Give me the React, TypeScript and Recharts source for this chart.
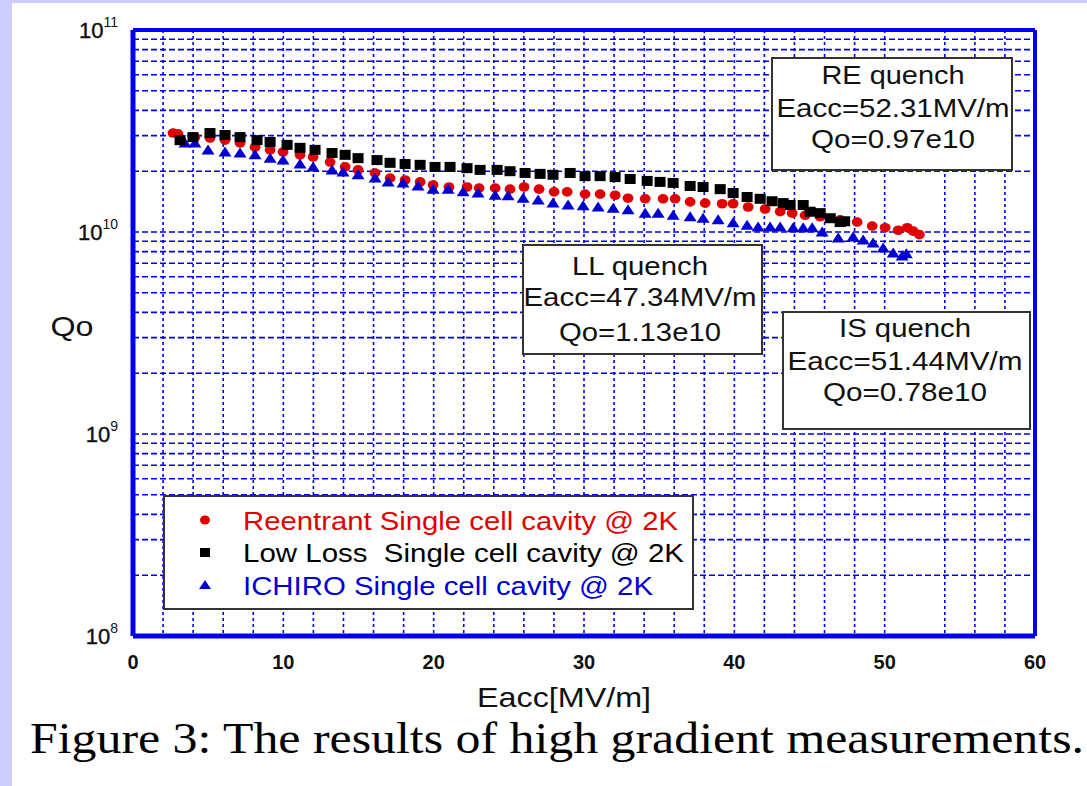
import React from 'react';
import { ScatterChart, Scatter, XAxis, YAxis, CartesianGrid, Legend } from 'recharts';

// ---------- data (Eacc in MV/m, Qo in units of 1e10) ----------
const reentrantE = [2.66, 2.99, 4.12, 5.12, 6.12, 7.12, 8.12, 9.12, 9.98, 11.11, 11.98, 13.11, 14.11, 14.97, 16.1, 17.1, 18.1, 19.1, 19.96, 21.02, 22.22, 23.02, 24.09, 25.08, 26.01, 27.01, 28.01, 28.88, 30.07, 31.07, 32.07, 32.93, 34.07, 35.26, 36.06, 37.06, 38.06, 39.19, 39.92, 40.92, 42.05, 43.05, 43.85, 44.71, 45.71, 47.04, 48.17, 49.17, 50.03, 50.9, 51.5, 51.9, 52.31];
const reentrantQ = [3.09, 3.06, 2.95, 2.92, 2.85, 2.76, 2.63, 2.55, 2.49, 2.41, 2.35, 2.22, 2.1, 2.03, 1.96, 1.85, 1.81, 1.77, 1.71, 1.67, 1.67, 1.65, 1.65, 1.63, 1.67, 1.63, 1.58, 1.58, 1.54, 1.54, 1.52, 1.47, 1.46, 1.46, 1.46, 1.41, 1.39, 1.38, 1.38, 1.33, 1.3, 1.26, 1.24, 1.21, 1.19, 1.15, 1.12, 1.07, 1.05, 1.02, 1.05, 1.01, 0.97];

const lowLossE = [3.13, 3.99, 5.12, 6.12, 7.12, 8.25, 9.12, 10.25, 11.11, 12.11, 13.24, 14.11, 14.97, 16.23, 17.1, 18.1, 19.1, 20.09, 21.09, 22.22, 23.09, 24.22, 25.08, 26.08, 27.08, 27.94, 29.08, 30.07, 31.07, 32.07, 33.07, 34.2, 35.06, 35.93, 37.06, 37.92, 39.06, 39.92, 40.85, 41.72, 42.51, 43.25, 43.71, 44.58, 45.04, 45.71, 46.38, 47.04, 47.34];
const lowLossQ = [2.85, 2.95, 3.09, 3.02, 2.95, 2.85, 2.79, 2.7, 2.61, 2.55, 2.46, 2.41, 2.32, 2.27, 2.2, 2.17, 2.15, 2.1, 2.1, 2.07, 2.03, 2.03, 2.0, 1.96, 1.94, 1.92, 1.96, 1.89, 1.89, 1.87, 1.83, 1.79, 1.77, 1.75, 1.69, 1.67, 1.63, 1.56, 1.49, 1.46, 1.42, 1.39, 1.36, 1.36, 1.26, 1.24, 1.17, 1.12, 1.13];

const ichiroE = [3.46, 4.12, 4.99, 6.12, 7.12, 8.12, 9.12, 9.98, 11.11, 11.98, 13.24, 13.97, 14.97, 16.1, 16.97, 17.96, 18.96, 19.96, 20.96, 21.96, 22.95, 24.09, 24.95, 25.95, 26.95, 27.94, 28.94, 29.94, 30.94, 31.94, 32.93, 34.07, 34.93, 35.93, 37.06, 37.92, 38.92, 39.92, 40.85, 41.58, 42.38, 43.05, 43.91, 44.58, 45.18, 45.84, 46.91, 47.9, 48.57, 49.23, 49.9, 50.57, 51.16, 51.44];
const ichiroQ = [2.76, 2.76, 2.55, 2.49, 2.46, 2.41, 2.32, 2.27, 2.17, 2.1, 2.03, 1.98, 1.92, 1.85, 1.77, 1.75, 1.69, 1.63, 1.63, 1.58, 1.56, 1.52, 1.51, 1.47, 1.44, 1.39, 1.36, 1.35, 1.33, 1.31, 1.29, 1.24, 1.24, 1.21, 1.19, 1.17, 1.15, 1.11, 1.08, 1.06, 1.06, 1.06, 1.05, 1.05, 1.05, 1.0, 0.934, 0.945, 0.913, 0.882, 0.833, 0.787, 0.76, 0.78];

const xTicks = [0, 10, 20, 30, 40, 50, 60];
const xMinorTicks = [2, 4, 6, 8, 12, 14, 16, 18, 22, 24, 26, 28, 32, 34, 36, 38, 42, 44, 46, 48, 52, 54, 56, 58];
const xGridValues = [2, 4, 6, 8, 10, 12, 14, 16, 18, 20, 22, 24, 26, 28, 30, 32, 34, 36, 38, 40, 42, 44, 46, 48, 50, 54, 56, 58];
const yTicks = [1e8, 1e9, 1e10, 1e11];
const yMinorTicks = [2e8, 3e8, 4e8, 5e8, 6e8, 7e8, 8e8, 9e8, 2e9, 3e9, 4e9, 5e9, 6e9, 7e9, 8e9, 9e9, 2e10, 3e10, 4e10, 5e10, 6e10, 7e10, 8e10, 9e10];
const yGridValues = [2e8, 3e8, 4e8, 5e8, 6e8, 7e8, 8e8, 9e8, 1e9, 2e9, 3e9, 4e9, 5e9, 6e9, 7e9, 8e9, 9e9, 1e10, 2e10, 3e10, 4e10, 5e10, 6e10, 7e10, 8e10, 9e10];

const seriesNames = ['Reentrant Single cell cavity @ 2K', 'Low Loss  Single cell cavity @ 2K', 'ICHIRO Single cell cavity @ 2K'];
const reQuench = ['RE quench', 'Eacc=52.31MV/m', 'Qo=0.97e10'];
const llQuench = ['LL quench', 'Eacc=47.34MV/m', 'Qo=1.13e10'];
const isQuench = ['IS quench', 'Eacc=51.44MV/m', 'Qo=0.78e10'];
const xTitle = 'Eacc[MV/m]';
const yTitle = 'Qo';
const caption = 'Figure 3: The results of high gradient measurements.';

const build = (es: number[], qs: number[]) => es.map((e, i) => ({ x: e, y: qs[i] * 1e10 }));
const reData = build(reentrantE, reentrantQ);
const llData = build(lowLossE, lowLossQ);
const isData = build(ichiroE, ichiroQ);

// ---------- styling ----------
const AXIS = '#0000ee';
const GRID = '#0000ee';
const RED = '#e00000';
const BLUE = '#0000d0';
const SANS = '"Liberation Sans", Arial, sans-serif';
const SERIF = '"Liberation Serif", "Times New Roman", serif';

const RedDot = (p: any) => <ellipse cx={p.cx} cy={p.cy} rx={5.4} ry={4.8} fill={RED} />;
const BlackSquare = (p: any) => <rect x={p.cx - 5.5} y={p.cy - 5} width={11} height={10} fill="#000" />;
const BlueTri = (p: any) => (
  <polygon points={`${p.cx},${p.cy - 5.5} ${p.cx + 6.5},${p.cy + 4.5} ${p.cx - 6.5},${p.cy + 4.5}`} fill={BLUE} />
);

const YTick = (props: any) => {
  const { x, y, payload } = props;
  const exp = Math.round(Math.log10(payload.value));
  return (
    <text x={x} y={y} textAnchor="end" fontFamily={SANS} fill="#111">
      <tspan fontSize={22} dy={8} stroke="#111" strokeWidth={0.4}>10</tspan>
      <tspan fontSize={14} dy={-11}>{exp}</tspan>
    </text>
  );
};

const LegendBox = () => {
  const rows = [
    { c: RED, w: 435, cy: 26, m: 'c' },
    { c: '#000', w: 441, cy: 58, m: 's' },
    { c: BLUE, w: 410, cy: 91, m: 't' },
  ];
  return (
    <svg width={532} height={116} style={{ display: 'block' }}>
      <rect x={1} y={1} width={529} height={113} fill="#fff" stroke="#333" strokeWidth={2} />
      {rows.map((r, i) => (
        <g key={i}>
          {r.m === 'c' && <ellipse cx={42} cy={r.cy - 1} rx={5} ry={4.5} fill={r.c} />}
          {r.m === 's' && <rect x={37} y={r.cy - 5} width={10} height={9} fill={r.c} />}
          {r.m === 't' && <polygon points={`42,${r.cy - 6} 48,${r.cy + 3} 36,${r.cy + 3}`} fill={r.c} />}
          <text x={80} y={r.cy + 9} fontSize={25} fontFamily={SANS} fill={r.c} textLength={r.w} lengthAdjust="spacingAndGlyphs" xmlSpace="preserve">
            {seriesNames[i]}
          </text>
        </g>
      ))}
    </svg>
  );
};

const boxes = [
  { lines: reQuench, x: 772, y: 58, w: 240, h: 112, cx: 893, cys: [75, 108, 139], ws: [143, 233, 164] },
  { lines: llQuench, x: 523, y: 245, w: 239, h: 109, cx: 640, cys: [266, 297, 332], ws: [136, 233, 162] },
  { lines: isQuench, x: 783, y: 312, w: 247, h: 117, cx: 905, cys: [328, 361, 392], ws: [132, 235, 164] },
];

const mirrorX = [
  { id: 'tMaj', o: 'top', t: xTicks, s: 8, w: 3, line: true },
  { id: 'tMin', o: 'top', t: xMinorTicks, s: 4, w: 2, line: false },
  { id: 'bMaj', o: 'bottom', t: xTicks, s: 8, w: 3, line: false },
  { id: 'bMin', o: 'bottom', t: xMinorTicks, s: 4, w: 2, line: false },
];
const mirrorY = [
  { id: 'lMaj', o: 'left', t: yTicks, s: 9, w: 3, line: false },
  { id: 'lMin', o: 'left', t: yMinorTicks, s: 5, w: 2, line: false },
  { id: 'rMaj', o: 'right', t: yTicks, s: 9, w: 3, line: true },
  { id: 'rMin', o: 'right', t: yMinorTicks, s: 5, w: 2, line: false },
];

export default function App() {
  return (
    <div style={{ position: 'absolute', left: 0, top: 0, width: 1087, height: 786, background: '#ccccff', overflow: 'hidden' }}>
      <div style={{ position: 'absolute', left: 12, top: 3, width: 1075, height: 783, background: '#fff' }} />
      <div style={{ position: 'absolute', left: 0, top: 0 }}>
        <ScatterChart width={1087} height={786} margin={{ top: 30, right: 52, bottom: 110, left: 73 }}>
          <CartesianGrid xAxisId="x" yAxisId="y" vertical={false} horizontalValues={yGridValues} stroke={GRID} strokeWidth={1.6} strokeDasharray="6 3" />
          <CartesianGrid xAxisId="x" yAxisId="y" horizontal={false} verticalValues={xGridValues} stroke={GRID} strokeWidth={1.6} strokeDasharray="3 3" />
          <XAxis
            xAxisId="x"
            dataKey="x"
            type="number"
            domain={[0, 60]}
            ticks={xTicks}
            interval={0}
            allowDataOverflow
            height={40}
            tickLine={false}
            tickSize={8}
            tickMargin={11}
            axisLine={{ stroke: AXIS, strokeWidth: 5 }}
            tick={{ fill: '#111', fontSize: 20, fontWeight: 700, fontFamily: SANS }}
          />
          <YAxis
            yAxisId="y"
            dataKey="y"
            type="number"
            scale="log"
            domain={[1e8, 1e11]}
            ticks={yTicks}
            interval={0}
            allowDataOverflow
            width={60}
            tickLine={false}
            tickSize={6}
            tickMargin={9}
            axisLine={{ stroke: AXIS, strokeWidth: 5 }}
            tick={(p: any) => <YTick {...p} />}
          />
          {mirrorX.map((a) => (
            <XAxis
              key={a.id}
              xAxisId={a.id}
              orientation={a.o as any}
              mirror
              type="number"
              domain={[0, 60]}
              ticks={a.t}
              interval={0}
              allowDataOverflow
              height={1}
              tick={false}
              tickSize={a.s}
              tickLine={{ stroke: AXIS, strokeWidth: a.w }}
              axisLine={a.line ? { stroke: AXIS, strokeWidth: 4 } : false}
            />
          ))}
          {mirrorY.map((a) => (
            <YAxis
              key={a.id}
              yAxisId={a.id}
              orientation={a.o as any}
              mirror
              type="number"
              scale="log"
              domain={[1e8, 1e11]}
              ticks={a.t}
              interval={0}
              allowDataOverflow
              width={1}
              tick={false}
              tickSize={a.s}
              tickLine={{ stroke: AXIS, strokeWidth: a.w }}
              axisLine={a.line ? { stroke: AXIS, strokeWidth: 4 } : false}
            />
          ))}
          <Scatter name={seriesNames[0]} xAxisId="x" yAxisId="y" data={reData} shape={RedDot} isAnimationActive={false} />
          <Scatter name={seriesNames[2]} xAxisId="x" yAxisId="y" data={isData} shape={BlueTri} isAnimationActive={false} />
          <Scatter name={seriesNames[1]} xAxisId="x" yAxisId="y" data={llData} shape={BlackSquare} isAnimationActive={false} />
          <Legend
            layout="horizontal"
            verticalAlign="middle"
            align="center"
            content={() => <LegendBox />}
            wrapperStyle={{ position: 'absolute', left: 163, top: 495, width: 532, height: 116 }}
          />
        </ScatterChart>
      </div>
      <svg width={1087} height={786} style={{ position: 'absolute', left: 0, top: 0, pointerEvents: 'none' }}>
        {boxes.map((b, i) => (
          <g key={i}>
            <rect x={b.x} y={b.y} width={b.w} height={b.h} fill="#fff" stroke="#333" strokeWidth={2} />
            {b.lines.map((t, j) => (
              <text key={j} x={b.cx} y={b.cys[j] + 9} textAnchor="middle" fontSize={25} fontFamily={SANS} fill="#111" textLength={b.ws[j]} lengthAdjust="spacingAndGlyphs">
                {t}
              </text>
            ))}
          </g>
        ))}
        <text x={72} y={336} textAnchor="middle" fontSize={28} fontFamily={SANS} fill="#111" textLength={43} lengthAdjust="spacingAndGlyphs">{yTitle}</text>
        <text x={564} y={707} textAnchor="middle" fontSize={28} fontFamily={SANS} fill="#111" textLength={174} lengthAdjust="spacingAndGlyphs">{xTitle}</text>
        <text x={30} y={753} fontSize={45} fontFamily={SERIF} fill="#000" textLength={1054} lengthAdjust="spacingAndGlyphs">{caption}</text>
      </svg>
    </div>
  );
}
